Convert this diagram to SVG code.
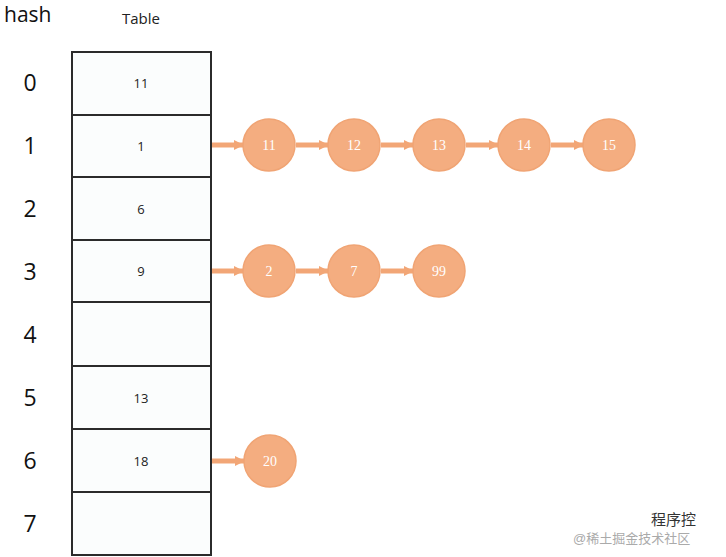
<svg xmlns="http://www.w3.org/2000/svg" width="726" height="557" viewBox="0 0 726 557">
<defs>
<marker id="ah" markerWidth="10" markerHeight="10" refX="9" refY="5" orient="auto" markerUnits="userSpaceOnUse">
<path d="M0,0 L10,5 L0,10 Z" fill="#F2A676"/>
</marker>
<style>
.cell{fill:#FBFDFD;stroke:#2b2b2b;stroke-width:2}
.ct{font-family:"Open Sans","Liberation Sans",sans-serif;font-size:13px;fill:#222;text-anchor:middle;dominant-baseline:central}
.hl{font-family:"Open Sans","Liberation Sans",sans-serif;font-size:23px;fill:#111;text-anchor:middle;dominant-baseline:central}
.nd{fill:#F4AD80;stroke:#F0A474;stroke-width:1.5}
.nt{font-family:"Liberation Serif","Times New Roman",serif;font-size:14px;fill:#fff;text-anchor:middle;dominant-baseline:central}
.ar{stroke:#F2A676;stroke-width:5;fill:none;marker-end:url(#ah)}
</style>
</defs>
<rect width="726" height="557" fill="#ffffff"/>
<text x="4" y="22" font-family="Open Sans,Liberation Sans,sans-serif" font-size="21" fill="#111">hash</text>
<text x="141" y="18" font-family="Open Sans,Liberation Sans,sans-serif" font-size="15" fill="#222" text-anchor="middle" dominant-baseline="central">Table</text>
<g id="hash-labels">
<text class="hl" x="30" y="82">0</text>
<text class="hl" x="30" y="145">1</text>
<text class="hl" x="30" y="208">2</text>
<text class="hl" x="30" y="271">3</text>
<text class="hl" x="30" y="334">4</text>
<text class="hl" x="30" y="397">5</text>
<text class="hl" x="30" y="460">6</text>
<text class="hl" x="30" y="523">7</text>
</g>
<g id="table">
<g id="cell0"><rect class="cell" x="72" y="52" width="139" height="63"/><text class="ct" x="141" y="83">11</text></g>
<g id="cell1"><rect class="cell" x="72" y="115" width="139" height="62"/><text class="ct" x="141" y="146">1</text></g>
<g id="cell2"><rect class="cell" x="72" y="177" width="139" height="63"/><text class="ct" x="141" y="209">6</text></g>
<g id="cell3"><rect class="cell" x="72" y="240" width="139" height="62"/><text class="ct" x="141" y="271">9</text></g>
<g id="cell4"><rect class="cell" x="72" y="302" width="139" height="64"/></g>
<g id="cell5"><rect class="cell" x="72" y="366" width="139" height="63"/><text class="ct" x="141" y="398">13</text></g>
<g id="cell6"><rect class="cell" x="72" y="429" width="139" height="63"/><text class="ct" x="141" y="461">18</text></g>
<g id="cell7"><rect class="cell" x="72" y="492" width="139" height="63"/></g>
</g>
<g id="connectors">
<line class="ar" x1="212" y1="145" x2="243" y2="145"/>
<line class="ar" x1="296" y1="145" x2="328" y2="145"/>
<line class="ar" x1="381" y1="145" x2="413" y2="145"/>
<line class="ar" x1="466" y1="145" x2="498" y2="145"/>
<line class="ar" x1="551" y1="145" x2="583" y2="145"/>
<line class="ar" x1="212" y1="271" x2="243" y2="271"/>
<line class="ar" x1="296" y1="271" x2="328" y2="271"/>
<line class="ar" x1="381" y1="271" x2="413" y2="271"/>
<line class="ar" x1="212" y1="461" x2="244" y2="461"/>
</g>
<g id="n1-11"><circle class="nd" cx="269" cy="145" r="26"/><text class="nt" x="269" y="145">11</text></g>
<g id="n1-12"><circle class="nd" cx="354" cy="145" r="26"/><text class="nt" x="354" y="145">12</text></g>
<g id="n1-13"><circle class="nd" cx="439" cy="145" r="26"/><text class="nt" x="439" y="145">13</text></g>
<g id="n1-14"><circle class="nd" cx="524" cy="145" r="26"/><text class="nt" x="524" y="145">14</text></g>
<g id="n1-15"><circle class="nd" cx="609" cy="145" r="26"/><text class="nt" x="609" y="145">15</text></g>
<g id="n3-2"><circle class="nd" cx="269" cy="271" r="26"/><text class="nt" x="269" y="271">2</text></g>
<g id="n3-7"><circle class="nd" cx="354" cy="271" r="26"/><text class="nt" x="354" y="271">7</text></g>
<g id="n3-99"><circle class="nd" cx="439" cy="271" r="26"/><text class="nt" x="439" y="271">99</text></g>
<g id="n6-20"><circle class="nd" cx="270" cy="461" r="26"/><text class="nt" x="270" y="461">20</text></g>
<text x="573" y="538" font-family="Liberation Sans,'Noto Sans CJK SC',sans-serif" font-size="13" fill="#aaaaaa" dominant-baseline="central">@稀土掘金技术社区</text>
<text x="651" y="519" font-family="Liberation Sans,'Noto Sans CJK SC',sans-serif" font-size="15" fill="#333" dominant-baseline="central">程序控</text>
</svg>
